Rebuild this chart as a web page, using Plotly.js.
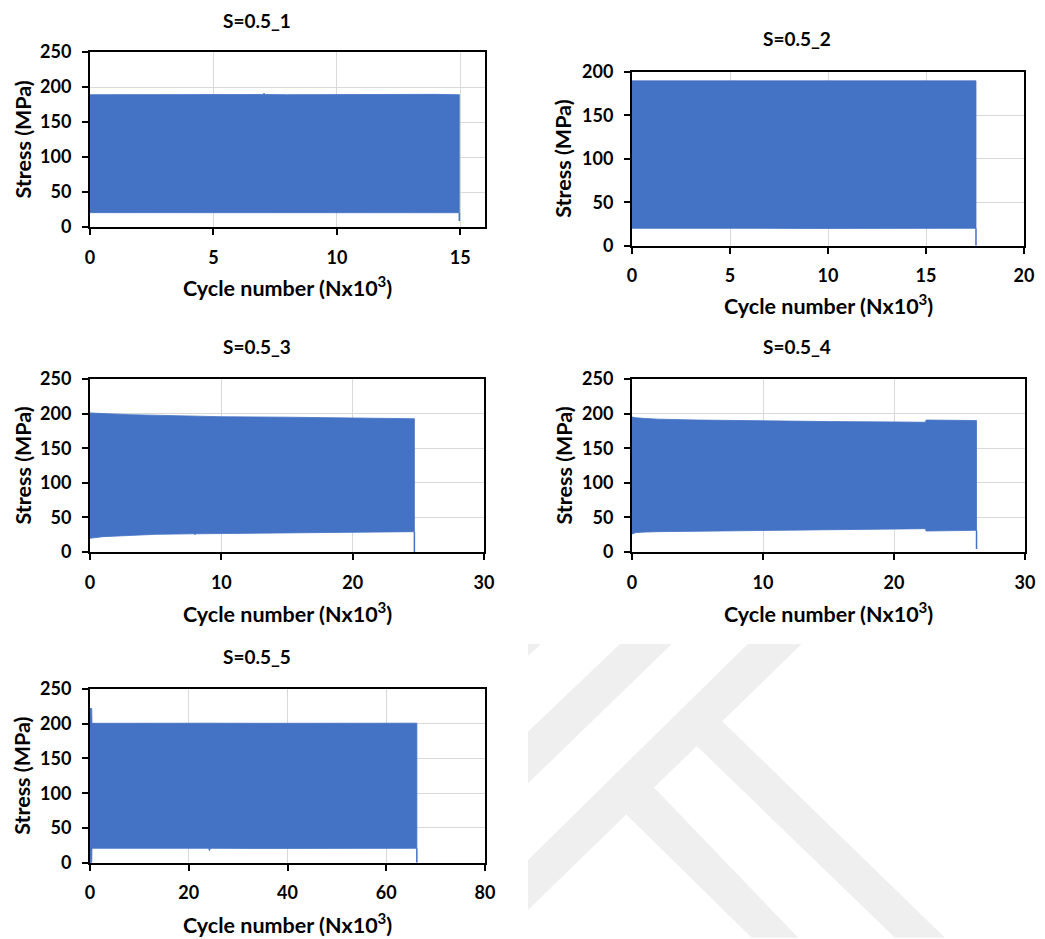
<!DOCTYPE html>
<html>
<head>
<meta charset="utf-8">
<script src="https://cdn.plot.ly/plotly-3.0.1.min.js"></script>
<style>
html,body{margin:0;padding:0;background:#fff;}
#chart{width:1045px;height:939px;}
</style>
</head>
<body>
<div id="chart"></div>
<script>
// ---------- DATA ----------
const subplotTitles = ['S=0.5_1', 'S=0.5_2', 'S=0.5_3', 'S=0.5_4', 'S=0.5_5'];
const xAxisLabel = 'Cycle number (Nx10<sup>3</sup>)';
const yAxisLabel = 'Stress (MPa)';

// Specimen 1
const cyc1 = [0, 0.1, 2, 4, 6, 7.0, 7.05, 7.1, 8, 10, 12, 14, 14.96];
const max1 = [189, 189, 189.5, 189, 189, 189.3, 191, 189.3, 189, 189.5, 189, 189.5, 189];
const min1 = [20.5, 20.5, 20.3, 20.4, 20.3, 20.4, 20.3, 20.4, 20.3, 20.4, 20.3, 20.4, 20.4];

// Specimen 2
const cyc2 = [0, 0.1, 3, 6, 9, 12, 15, 17.55];
const max2 = [189.5, 189.5, 190, 189.5, 190, 189.5, 190, 189.5];
const min2 = [20, 20, 19.8, 20, 19.8, 20, 19.8, 20];

// Specimen 3
const cyc3 = [0, 0.3, 1, 3, 5, 7.9, 8.0, 8.1, 10, 15, 20, 24.7];
const max3 = [201, 200.5, 200, 198.5, 197.5, 196.3, 196.2, 196.1, 195.5, 194.8, 194, 192.6];
const min3 = [19.8, 20.5, 22.2, 24.1, 25.5, 26.3, 25.2, 26.3, 27, 27.8, 28.4, 29.4];

// Specimen 4
const cyc4 = [0, 0.3, 1, 2, 5, 10, 15, 20, 22.4, 22.45, 24, 26.3];
const max4 = [195, 194, 193, 192, 190.7, 189.3, 188.5, 187.9, 187.5, 190.7, 190.4, 190];
const min4 = [26, 28, 28.8, 29.4, 31, 31.8, 32.6, 33.2, 33.7, 30.3, 30.8, 31.3];

// Specimen 5
const cyc5 = [0, 0.35, 0.4, 5, 15, 24.0, 24.2, 24.4, 35, 50, 60, 66.2];
const max5 = [222, 222, 200.6, 200.8, 200.6, 200.8, 200.6, 200.8, 200.6, 200.8, 200.6, 200.8];
const min5 = [0, 0, 20.7, 20.7, 20.5, 20.7, 17.3, 20.7, 20.5, 20.7, 20.5, 20.7];

// Failure (final drop) of each specimen
const failCycle = [14.96, 17.55, 24.7, 26.3, 66.2];
const failStress = [8.5, 0, 0, 4.3, 0];

// Axis ranges / ticks
const xMax = [16, 20, 30, 30, 80];
const xStep = [5, 5, 10, 10, 20];
const yMax = [250, 200, 250, 250, 250];
const yStep = [50, 50, 50, 50, 50];

// ---------- LAYOUT GEOMETRY (pixels in a 1045x939 page) ----------
const W = 1045, H = 939;
const px = v => v / W;
const py = v => 1 - v / H;
// plot areas: [left, right, top, bottom]
const boxes = [
  [90, 485, 52, 227],
  [632, 1024, 71.7, 245.7],
  [90, 484, 379, 552],
  [632, 1025, 379, 552],
  [90, 485, 689, 862.7]
];
const titlePos = [[257, 21], [797, 39], [257, 346], [797, 346], [257, 656]];
const xTitleY = [287, 305, 612, 612, 923];
const yTitleX = [22, 563, 22, 563, 22];

const blue = '#4472C4';
const fontFam = 'Lato, "Open Sans", "DejaVu Sans", sans-serif';

const series = [
  [cyc1, max1, min1],
  [cyc2, max2, min2],
  [cyc3, max3, min3],
  [cyc4, max4, min4],
  [cyc5, max5, min5]
];

const traces = [];
const layout = {
  width: W, height: H,
  margin: {l: 0, r: 0, t: 0, b: 0},
  paper_bgcolor: '#ffffff',
  plot_bgcolor: '#ffffff',
  showlegend: false,
  hovermode: false,
  font: {family: fontFam, color: '#000', size: 18, weight: 'bold'},
  annotations: [],
  shapes: []
};

series.forEach((s, i) => {
  const n = i + 1;
  const xa = 'x' + (n === 1 ? '' : n);
  const ya = 'y' + (n === 1 ? '' : n);
  const [cyc, smax, smin] = s;
  // filled band between max and min stress envelopes
  traces.push({
    type: 'scatter', mode: 'lines',
    x: cyc.concat(cyc.slice().reverse()),
    y: smax.concat(smin.slice().reverse()),
    fill: 'toself', fillcolor: blue,
    line: {color: blue, width: 0.8},
    xaxis: xa, yaxis: ya
  });
  // final drop at failure
  traces.push({
    type: 'scatter', mode: 'lines',
    x: [failCycle[i], failCycle[i]],
    y: [smin[smin.length - 1], failStress[i]],
    line: {color: blue, width: 1.5},
    xaxis: xa, yaxis: ya
  });

  const b = boxes[i];
  const axCommon = {
    showline: true, mirror: true, linecolor: '#000', linewidth: 2,
    ticks: 'outside', ticklen: 6, tickwidth: 2, tickcolor: '#000',
    showgrid: true, gridcolor: '#d9d9d9', gridwidth: 1,
    zeroline: false, fixedrange: true,
    tickfont: {family: fontFam, size: 18, color: '#000', weight: 'bold'}
  };
  layout['xaxis' + (n === 1 ? '' : n)] = Object.assign({}, axCommon, {
    domain: [px(b[0]), px(b[1])],
    range: [0, xMax[i]], dtick: xStep[i], tick0: 0,
    anchor: ya, ticklabelstandoff: 7
  });
  layout['yaxis' + (n === 1 ? '' : n)] = Object.assign({}, axCommon, {
    domain: [py(b[3]), py(b[2])],
    range: [0, yMax[i]], dtick: yStep[i], tick0: 0,
    anchor: xa, ticklabelstandoff: 7
  });

  layout.annotations.push({
    xref: 'paper', yref: 'paper',
    x: px(titlePos[i][0]), y: py(titlePos[i][1]),
    xanchor: 'center', yanchor: 'middle', showarrow: false,
    text: subplotTitles[i],
    font: {family: fontFam, size: 19, color: '#000', weight: 'bold'}
  });
  layout.annotations.push({
    xref: 'paper', yref: 'paper',
    x: px((b[0] + b[1]) / 2), y: py(xTitleY[i]),
    xanchor: 'center', yanchor: 'middle', showarrow: false,
    text: xAxisLabel,
    font: {family: fontFam, size: 21.5, color: '#000', weight: 'bold'}
  });
  layout.annotations.push({
    xref: 'paper', yref: 'paper',
    x: px(yTitleX[i]), y: py((b[2] + b[3]) / 2),
    xanchor: 'center', yanchor: 'middle', showarrow: false,
    textangle: -90,
    text: yAxisLabel,
    font: {family: fontFam, size: 21.5, color: '#000', weight: 'bold'}
  });
});

// ---------- background watermark (light grey diagonal bands) ----------
const wm = [
  [[620, 644], [671.7, 644], [528, 783.3], [528, 731.7]],
  [[747.7, 644], [801.7, 644], [528, 910], [528, 860]],
  [[721.7, 720.7], [945, 937.7], [895, 937.7], [696.7, 746]],
  [[653.3, 786.7], [798.3, 937.7], [751.7, 937.7], [626, 814.3]],
  [[528, 644], [541, 644], [528, 656]]
];
wm.forEach(poly => {
  const d = poly.map((p, k) => (k === 0 ? 'M' : 'L') + px(p[0]).toFixed(5) + ',' + py(p[1]).toFixed(5)).join(' ') + ' Z';
  layout.shapes.push({
    type: 'path', xref: 'paper', yref: 'paper', path: d,
    fillcolor: '#efefef', line: {width: 0}, layer: 'below'
  });
});

Plotly.newPlot('chart', traces, layout, {staticPlot: true, displayModeBar: false});
</script>
</body>
</html>
